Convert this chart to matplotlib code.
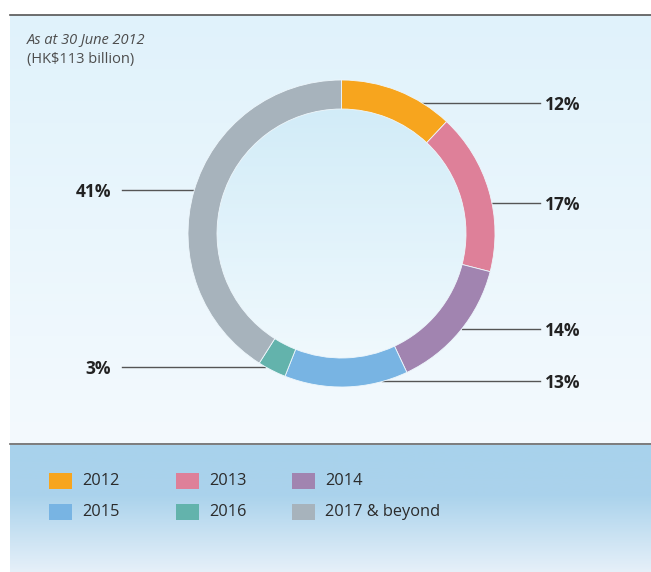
import numpy as np
import matplotlib
matplotlib.use('Agg')
import matplotlib.pyplot as plt
from matplotlib.patches import Circle, Rectangle
from matplotlib.colors import LinearSegmentedColormap

plt.rcParams['font.family'] = ['Open Sans', 'DejaVu Sans']

# 数据
years = ['2012', '2013', '2014', '2015', '2016', '2017 & beyond']
shares = [12, 17, 14, 13, 3, 41]
colors = ['#f7a51e', '#de8099', '#a184b0', '#78b4e3', '#63b3ac', '#a7b3bc']
pct_labels = ['12%', '17%', '14%', '13%', '3%', '41%']

W, H = 651, 572
fig = plt.figure(figsize=(W / 100, H / 100), dpi=100)
ax = fig.add_axes([0, 0, 1, 1])
ax.set_xlim(0, W)
ax.set_ylim(0, H)
ax.axis('off')

def py(y):  # 像素y(自上而下) -> 坐标y
    return H - y

def grad(x0, x1, ytop, ybot, c_top, c_bot, clip=None, z=0):
    cmap = LinearSegmentedColormap.from_list('g', [c_top, c_bot])
    im = ax.imshow(np.linspace(0, 1, 256).reshape(-1, 1), cmap=cmap, aspect='auto',
                   extent=[x0, x1, py(ybot), py(ytop)], zorder=z, interpolation='bilinear')
    if clip is not None:
        im.set_clip_path(clip)
    return im

# 背景
grad(10, W, 15, 444, '#e0f2fb', '#f4fafe')
cmap2 = LinearSegmentedColormap.from_list('l', [(0, '#a8d2ec'), (0.4, '#abd3ec'), (1, '#e6f0f9')])
ax.imshow(np.linspace(0, 1, 256).reshape(-1, 1), cmap=cmap2, aspect='auto',
          extent=[10, W, py(572), py(445)], zorder=0)
ax.plot([10, W], [py(15), py(15)], color='#555555', lw=1.2, zorder=2)
ax.plot([10, W], [py(444), py(444)], color='#666666', lw=1.2, zorder=2)

# 环形图
cx, cy, r = 341.5, py(233.5), 153.5
hole = Circle((cx, cy), 124.5, transform=ax.transData, facecolor='none', edgecolor='none')
ax.add_patch(hole)
grad(cx - 125, cx + 125, 233.5 - 125, 233.5 + 125, '#d2ecf8', '#f0f9fd', clip=hole, z=1)

wedges, _ = ax.pie(shares, colors=colors, startangle=90, counterclock=False,
                   center=(cx, cy), radius=r, frame=True,
                   wedgeprops=dict(width=29, edgecolor='#eef7fc', linewidth=0.6))
for w in wedges:
    w.set_zorder(3)
ax.set_xlim(0, W)
ax.set_ylim(0, H)
ax.axis('off')

# 引线和百分比
lines = [(421, 540, 103), (492, 540, 203), (462, 540, 329), (382, 540, 381),
         (265, 122, 367), (195, 122, 190)]
for (xa, xb, yy), lab in zip(lines, pct_labels):
    ax.plot([xa, xb], [py(yy), py(yy)], color='#555555', lw=1.0, zorder=2)
    if xb > xa:
        ax.text(545, py(yy + 2), lab, ha='left', va='center', fontsize=12.5,
                fontweight='bold', color='#222222')
    else:
        ax.text(111, py(yy + 2), lab, ha='right', va='center', fontsize=12.5,
                fontweight='bold', color='#222222')

# 标题
ax.text(27, py(40), 'As at 30 June 2012', ha='left', va='center', fontsize=10.5,
        style='italic', color='#4d4d4d')
ax.text(27, py(60), '(HK$113 billion)', ha='left', va='center', fontsize=10.5,
        color='#4d4d4d')

# 图例
col_x = [49, 176, 292]
row_y = [481, 512]
for i, (yr, c) in enumerate(zip(years, colors)):
    x0 = col_x[i % 3]
    y0 = row_y[i // 3]
    ax.add_patch(Rectangle((x0, py(y0 + 8)), 23, 16, facecolor=c, edgecolor='none', zorder=3))
    ax.text(x0 + 33, py(y0), yr, ha='left', va='center', fontsize=11.8, color='#2b2b2b')

fig.savefig('out.png', dpi=100)
